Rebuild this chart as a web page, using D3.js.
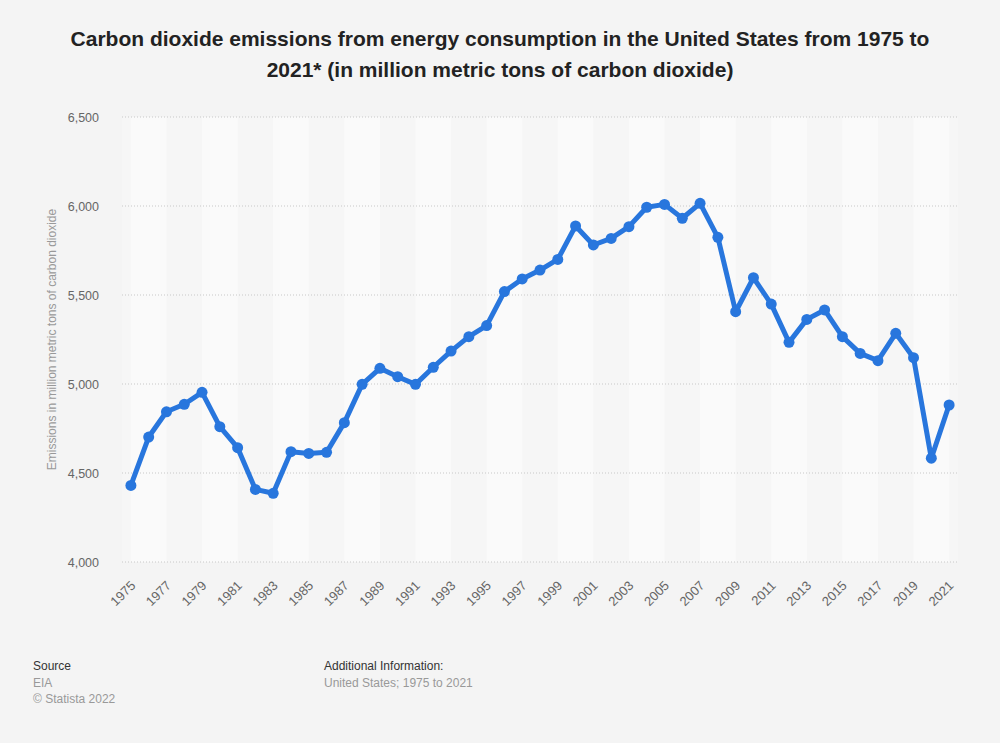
<!DOCTYPE html>
<html>
<head>
<meta charset="utf-8">
<script src="https://cdn.jsdelivr.net/npm/d3@7/dist/d3.min.js"></script>
<style>
  body { margin: 0; background: #f4f4f4; }
  svg { display: block; font-family: "Liberation Sans", Arial, sans-serif; }
</style>
</head>
<body>
<div id="chart"></div>
<script>
var width = 1000;
var height = 743;
var margin = {top: 117, right: 42, bottom: 181, left: 122};

var years = d3.range(1975, 2022);
var emissions = [4430, 4702, 4844, 4886, 4953, 4760, 4642, 4408, 4386, 4620,
                 4610, 4616, 4783, 4998, 5088, 5041, 4998, 5094, 5185, 5266,
                 5328, 5519, 5590, 5640, 5700, 5888, 5781, 5818, 5884, 5993,
                 6009, 5931, 6015, 5824, 5406, 5597, 5449, 5234, 5363, 5416,
                 5266, 5172, 5131, 5285, 5148, 4583, 4882];
var yTicks = [4000, 4500, 5000, 5500, 6000, 6500];

var data = years.map((d, i) => ({year: d, value: emissions[i]}));

var x = d3.scaleBand()
          .domain(years)
          .range([margin.left, width - margin.right]);

var y = d3.scaleLinear()
          .domain([4000, 6500])
          .range([height - margin.bottom, margin.top]);

var svg = d3.select("#chart")
            .append("svg")
            .attr("width", width)
            .attr("height", height);

svg.append("rect")
   .attr("width", width)
   .attr("height", height)
   .attr("fill", "#f4f4f4");

// alternating column bands, two years wide
var cx = d => x(d) + x.bandwidth() / 2;
svg.append("rect")
   .attr("x", margin.left)
   .attr("y", margin.top)
   .attr("width", width - margin.right - margin.left)
   .attr("height", y(4000) - margin.top)
   .attr("fill", "#f6f6f6");
svg.append("g")
   .selectAll("rect")
   .data(years.filter((d, i) => i % 4 == 0 && i < years.length - 1))
   .enter()
   .append("rect")
   .attr("x", d => cx(d))
   .attr("y", margin.top)
   .attr("width", x.bandwidth() * 2)
   .attr("height", y(4000) - margin.top)
   .attr("fill", "#fafafa");

// gridlines
svg.append("g")
   .selectAll("line")
   .data(yTicks)
   .enter()
   .append("line")
   .attr("x1", margin.left)
   .attr("x2", width - margin.right)
   .attr("y1", d => y(d))
   .attr("y2", d => y(d))
   .attr("stroke", "#c8c8c8")
   .attr("stroke-width", 1)
   .attr("stroke-dasharray", "1,2");

// y axis
var yAxis = svg.append("g")
               .attr("transform", "translate(" + (margin.left - 20) + ",0)")
               .call(d3.axisLeft(y).tickValues(yTicks).tickSize(0).tickFormat(d3.format(",")));
yAxis.select(".domain").remove();
yAxis.selectAll("text")
     .attr("fill", "#666")
     .attr("font-size", 12.5)
     .attr("font-family", "Liberation Sans, Arial, sans-serif");

svg.append("text")
   .attr("transform", "translate(56," + (margin.top + (y(4000) - margin.top) / 2) + ") rotate(-90)")
   .attr("text-anchor", "middle")
   .attr("fill", "#999")
   .attr("font-size", 12)
   .text("Emissions in million metric tons of carbon dioxide");

// x axis
var xAxis = svg.append("g")
               .attr("transform", "translate(0," + (y(4000) + 6) + ")")
               .call(d3.axisBottom(x).tickValues(years.filter((d, i) => i % 2 == 0)).tickSize(0));
xAxis.select(".domain").remove();
xAxis.selectAll("text")
     .attr("fill", "#666")
     .attr("font-size", 13)
     .attr("font-family", "Liberation Sans, Arial, sans-serif")
     .attr("text-anchor", "end")
     .attr("dy", "0.35em")
     .attr("transform", "translate(0,13) rotate(-45)");

// line and dots
var line = d3.line()
             .x(d => cx(d.year))
             .y(d => y(d.value));

svg.append("path")
   .datum(data)
   .attr("fill", "none")
   .attr("stroke", "#2876dd")
   .attr("stroke-width", 5)
   .attr("stroke-linejoin", "round")
   .attr("d", line);

svg.append("g")
   .selectAll("circle")
   .data(data)
   .enter()
   .append("circle")
   .attr("cx", d => cx(d.year))
   .attr("cy", d => y(d.value))
   .attr("r", 5.5)
   .attr("fill", "#2876dd");

// title
var title = svg.append("text")
               .attr("text-anchor", "middle")
               .attr("font-family", "Liberation Sans Narrow, Arial Narrow, Liberation Sans, sans-serif")
               .attr("font-size", 21)
               .attr("font-weight", "bold")
               .attr("fill", "#222");
title.append("tspan")
     .attr("x", width / 2)
     .attr("y", 46)
     .text("Carbon dioxide emissions from energy consumption in the United States from 1975 to");
title.append("tspan")
     .attr("x", width / 2)
     .attr("y", 77)
     .text("2021* (in million metric tons of carbon dioxide)");

// footer
var footer = [
  {x: 33, y: 670, text: "Source", fill: "#333"},
  {x: 33, y: 687, text: "EIA", fill: "#999"},
  {x: 33, y: 703, text: "\u00a9 Statista 2022", fill: "#999"},
  {x: 324, y: 670, text: "Additional Information:", fill: "#333"},
  {x: 324, y: 687, text: "United States; 1975 to 2021", fill: "#999"}
];
svg.append("g")
   .selectAll("text")
   .data(footer)
   .enter()
   .append("text")
   .attr("x", d => d.x)
   .attr("y", d => d.y)
   .attr("font-size", 12)
   .attr("fill", d => d.fill)
   .text(d => d.text);
</script>
</body>
</html>
